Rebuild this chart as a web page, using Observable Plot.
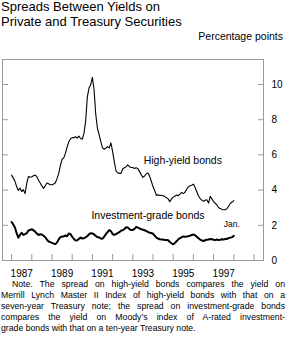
<!DOCTYPE html>
<html><head><meta charset="utf-8">
<script src="https://cdn.jsdelivr.net/npm/d3@7"></script>
<script src="https://cdn.jsdelivr.net/npm/@observablehq/plot@0.6"></script>
<style>
body{margin:0;background:#fff;font-family:"Liberation Sans",Arial,Helvetica,sans-serif;color:#000;}
#wrap{position:relative;width:287px;height:338px;overflow:hidden;}
#title{position:absolute;left:1px;top:-1px;font-size:13px;line-height:15px;white-space:nowrap;}
#unit{position:absolute;right:4px;top:30px;font-size:10.5px;line-height:12px;white-space:nowrap;}
#chart{position:absolute;left:0;top:50px;}
#note{position:absolute;left:1px;top:279px;width:284px;font-size:8.7px;line-height:11px;}
#note div{text-align:justify;text-align-last:justify;white-space:nowrap;}
#note div.first{text-indent:11px;}
#note div.last{text-align-last:left;}
</style></head>
<body>
<div id="wrap">
  <div id="title">Spreads Between Yields on<br>Private and Treasury Securities</div>
  <div id="unit">Percentage points</div>
  <div id="chart"></div>
  <div id="note"></div>
</div>
<script>
const startYear = 1987;
const highYield = [
4.85,4.68,4.5,4.2,3.98,4.12,3.92,4.02,3.8,4.38,4.77,4.73,
4.76,4.82,4.85,4.76,4.56,4.4,4.24,4.1,4.25,4.4,4.36,4.3,
4.3,4.34,4.42,4.65,4.95,5.4,5.75,5.83,6.1,6.45,6.75,6.92,
6.98,6.98,7.03,6.95,7.07,6.93,6.89,7.22,7.92,9.3,9.8,9.98,
10.4,9.7,8.3,7.5,7.15,6.75,6.4,6.32,6.38,6.47,6.4,6.68,
6.2,5.62,5.1,4.98,4.95,4.95,5.2,5.27,5.32,5.43,5.33,5.28,
5.28,5.23,5.27,5.22,5.05,4.88,4.72,4.8,4.93,4.97,4.78,4.5,
4.2,3.98,3.7,3.74,3.69,3.71,3.68,3.63,3.57,3.5,3.34,3.5,
3.6,3.65,3.72,3.68,3.77,3.87,3.8,3.88,4.05,4.18,4.25,4.28,
4.34,4.15,3.91,3.68,3.52,3.43,3.37,3.42,3.45,3.26,3.64,3.5,
3.35,3.25,3.15,3.0,2.96,2.9,2.88,2.88,2.95,3.1,3.25,3.32,
3.4];
const investmentGrade = [
2.19,2.05,1.88,1.55,1.3,1.45,1.57,1.45,1.5,1.55,1.7,1.73,
1.78,1.71,1.64,1.53,1.45,1.49,1.48,1.41,1.32,1.18,1.08,1.04,
1.0,0.96,0.93,1.03,1.2,1.33,1.36,1.37,1.42,1.38,1.53,1.5,
1.35,1.22,1.14,1.15,1.23,1.30,1.25,1.27,1.32,1.38,1.49,1.55,
1.54,1.48,1.40,1.33,1.31,1.25,1.24,1.35,1.5,1.61,1.73,1.67,
1.5,1.45,1.5,1.56,1.61,1.69,1.73,1.78,1.89,1.88,1.78,1.73,
1.73,1.8,1.91,1.87,1.82,1.77,1.75,1.72,1.67,1.62,1.57,1.56,
1.52,1.41,1.30,1.25,1.21,1.19,1.19,1.16,1.17,1.15,1.05,0.98,
0.92,1.0,1.09,1.2,1.27,1.32,1.37,1.34,1.37,1.38,1.41,1.45,
1.48,1.43,1.35,1.27,1.19,1.14,1.11,1.15,1.18,1.19,1.22,1.21,
1.18,1.16,1.19,1.16,1.18,1.21,1.19,1.23,1.22,1.28,1.3,1.33,
1.4];
const yearTicks = [1987,1988,1989,1990,1991,1992,1993,1994,1995,1996,1997,1998,1999];
const yearLabels = [1987,1989,1991,1993,1995,1997];
const yTicks = [0,2,4,6,8,10];
const seriesLabels = ["High-yield bonds","Investment-grade bonds"];
const seriesLabelX = [1993.54,1990.95];
const seriesLabelY = [5.69,2.54];
const endLabel = ["Jan."];
const endLabelX = [1997.5];
const endLabelY = [2.05];
const noteLines = [
"Note. The spread on high-yield bonds compares the yield on",
"Merrill Lynch Master II Index of high-yield bonds with that on a",
"seven-year Treasury note; the spread on investment-grade bonds",
"compares the yield on Moody\u2019s index of A-rated investment-",
"grade bonds with that on a ten-year Treasury note."
];

const font = '"Liberation Sans",Arial,Helvetica,sans-serif';
const gray = "#9a9a9a";
const monthX = (d, i) => startYear + i / 12;

const chart = Plot.plot({
  width: 287, height: 232,
  marginLeft: 2, marginRight: 24, marginTop: 9, marginBottom: 22,
  style: {fontFamily: font, fontSize: "10px", color: "#000", background: "transparent"},
  x: {type: "linear", domain: [1986.55, 1999.47]},
  y: {domain: [0, 11.42]},
  marks: [
    Plot.frame({stroke: gray}),
    Plot.axisY(yTicks, {anchor: "right", tickSize: 6, dx: -6, tickFormat: () => "", stroke: gray, label: null}),
    Plot.axisY(yTicks, {anchor: "left", tickSize: 6, dx: 6, tickFormat: () => "", stroke: gray, label: null}),
    Plot.axisY(yTicks, {anchor: "right", tickSize: 0, tickPadding: 8, label: null, fill: "#000"}),
    Plot.axisX(yearTicks, {anchor: "bottom", tickSize: 6, dy: -6, tickFormat: () => "", stroke: gray, label: null}),
    Plot.axisX(yearLabels.map(y => y + 0.5), {anchor: "bottom", tickSize: 0, tickPadding: 9.5, tickFormat: d => String(Math.floor(d)), label: null, fill: "#000"}),
    Plot.line(highYield, {x: monthX, y: d => d, stroke: "#000", strokeWidth: 1.1}),
    Plot.line(investmentGrade, {x: monthX, y: d => d, stroke: "#000", strokeWidth: 2}),
    Plot.text(seriesLabels, {x: (d, i) => seriesLabelX[i], y: (d, i) => seriesLabelY[i], text: d => d, textAnchor: "start", fontSize: 10.5, fill: "#000"}),
    Plot.text(endLabel, {x: (d, i) => endLabelX[i], y: (d, i) => endLabelY[i], text: d => d, textAnchor: "start", fontSize: 8.5, fill: "#000"})
  ]
});
document.getElementById("chart").appendChild(chart);

const note = document.getElementById("note");
noteLines.forEach((t, i) => {
  const div = document.createElement("div");
  div.textContent = t;
  if (i === 0) div.className = "first";
  if (i === noteLines.length - 1) div.className = "last";
  note.appendChild(div);
});
</script>
</body></html>
